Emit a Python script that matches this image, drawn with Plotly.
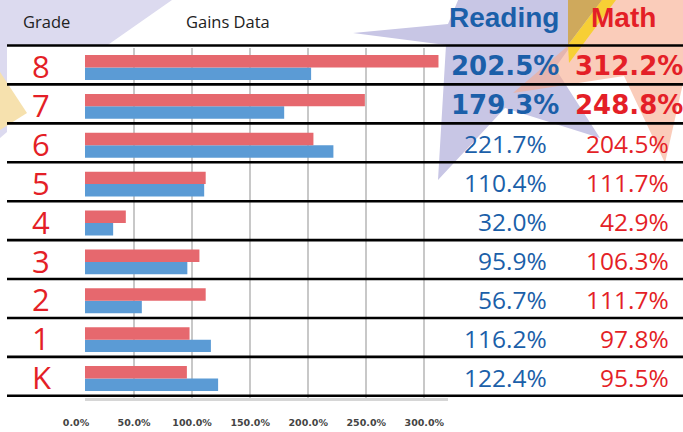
import plotly.graph_objects as go

# ---------------- data ----------------
grades = ["K", "1", "2", "3", "4", "5", "6", "7", "8"]          # bottom -> top
reading = [122.4, 116.2, 56.7, 95.9, 32.0, 110.4, 221.7, 179.3, 202.5]
math = [95.5, 97.8, 111.7, 106.3, 42.9, 111.7, 204.5, 248.8, 312.2]
tick_values = [0, 50, 100, 150, 200, 250, 300]
tick_labels = [f"{v:.1f}%" for v in tick_values]
highlight_grades = ["8", "7"]

W, H = 683, 432
def X(px): return px / W
def Y(py): return 1 - py / H

BLUE_TXT = "#1b5fa9"
RED_TXT = "#e41f27"

def poly(pts, color, opacity=1.0, layer="below"):
    path = "M " + " L ".join(f"{X(x):.5f},{Y(y):.5f}" for x, y in pts) + " Z"
    return dict(type="path", xref="paper", yref="paper", path=path,
                fillcolor=color, line=dict(width=0), opacity=opacity, layer=layer)

shapes = []
# decorative background shapes
shapes.append(poly([(0, 0), (172, 0), (107, 45.5), (7, 45.5), (7, 132), (0, 138)], "#dcdaef"))
shapes.append(poly([(0, 72), (27, 113), (0, 130)], "#f6e1ae"))
shapes.append(poly([(353, 33), (448, 24), (494, -85), (545, -10), (625, -30), (555, 68),
                    (600, 138), (505, 108), (438, 180), (446, 45)], "#c8c6e5"))
shapes.append(poly([(513, 93), (624, 76), (665, 163), (686, 70), (787, 59), (699, 8),
                    (720, -91), (644, -23), (555, -72), (598, 20)], "rgb(246,170,140)", opacity=0.6))
shapes.append(poly([(568, 0), (602, 0), (568, 45)], "#cfa95c"))
shapes.append(poly([(602, 0), (616, 0), (569, 63), (568, 45)], "#f7cf35"))

# hide the part of the bar area under the grade column
shapes.append(dict(type="rect", xref="paper", yref="paper", x0=X(55), x1=X(85), y0=Y(401), y1=Y(46.5),
                   fillcolor="white", line=dict(width=0), layer="above"))

# row separators
row_lines = [45.5 + 38.92 * i for i in range(10)]
for yy in row_lines:
    shapes.append(dict(type="line", xref="paper", yref="paper", x0=X(7), x1=X(683),
                       y0=Y(yy), y1=Y(yy), line=dict(color="black", width=2.6), layer="above"))

fig = go.Figure()
fig.add_trace(go.Bar(y=grades, x=reading, orientation="h", name="Reading",
                     marker=dict(color="#5b9bd5", line=dict(width=0))))
fig.add_trace(go.Bar(y=grades, x=math, orientation="h", name="Math",
                     marker=dict(color="#e6686e", line=dict(width=0))))

annotations = []
def txt(x, y, s, size, color, family="Open Sans", weight="normal", xanchor="center"):
    annotations.append(dict(x=X(x), y=Y(y), xref="paper", yref="paper", text=s, showarrow=False,
                            xanchor=xanchor, yanchor="middle",
                            font=dict(family=family, size=size, color=color, weight=weight)))

txt(46, 21, "Grade", 16.5, "#222222")
txt(228, 21, "Gains Data", 16.5, "#222222")
txt(504, 17, "Reading", 28, BLUE_TXT, family="Liberation Sans", weight="bold")
txt(623, 17, "Math", 28, RED_TXT, family="Liberation Sans", weight="bold")

n = len(grades)
for k in range(n):
    i = n - 1 - k
    g = grades[i]
    yc = 45.5 + 38.92 * (k + 0.5)
    txt(41, yc + 1, g, 31, RED_TXT)
    r_s = f"{reading[i]:.1f}%"
    m_s = f"{math[i]:.1f}%"
    if g in highlight_grades:
        txt(561, yc + 1, r_s, 26, BLUE_TXT, family="DejaVu Sans", weight="bold", xanchor="right")
        txt(685, yc + 1, m_s, 26, RED_TXT, family="DejaVu Sans", weight="bold", xanchor="right")
    else:
        txt(549, yc + 1, r_s, 24.5, BLUE_TXT, xanchor="right")
        txt(671, yc + 1, m_s, 24.5, RED_TXT, xanchor="right")

fig.update_layout(
    width=W, height=H, margin=dict(l=0, r=0, t=0, b=0, autoexpand=False),
    paper_bgcolor="white", plot_bgcolor="rgba(0,0,0,0)",
    barmode="group", bargap=0.36, bargroupgap=0, showlegend=False,
    shapes=shapes, annotations=annotations,
    xaxis=dict(domain=[X(76), X(448)], range=[0, 320.4], tickvals=tick_values, ticktext=tick_labels,
               showgrid=True, gridcolor="#c8c8c8", gridwidth=2, automargin=False,
               zeroline=False, showline=True, linecolor="#d6d6d6", linewidth=3, ticks="",
               ticklabelstandoff=14,
               tickfont=dict(family="DejaVu Sans", size=9.5, color="#444444", weight="bold"),
               fixedrange=True),
    yaxis=dict(domain=[Y(398), Y(48)], type="category", categoryorder="array", automargin=False,
               categoryarray=grades, showticklabels=False, showgrid=False, zeroline=False,
               showline=False, ticks="", fixedrange=True),
)

fig.write_html("out.html", config={"displayModeBar": False},
               post_script="document.body.style.margin='0';document.body.style.overflow='hidden';")
